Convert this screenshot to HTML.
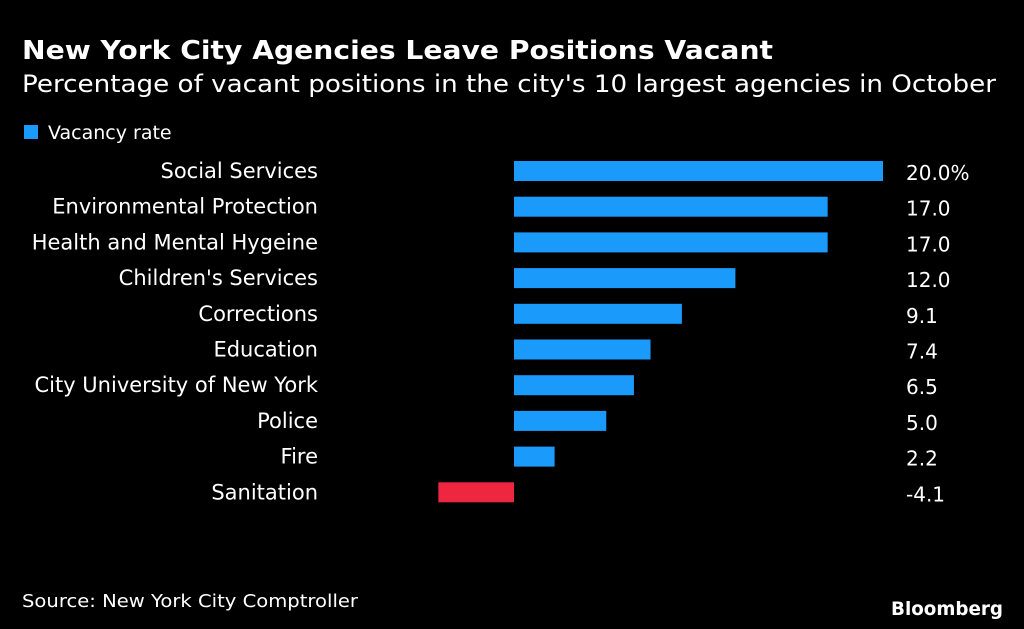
<!DOCTYPE html>
<html><head><meta charset="utf-8">
<style>
html,body{margin:0;padding:0;background:#000;}
svg{display:block;font-family:"DejaVu Sans","Liberation Sans",sans-serif;}
</style></head>
<body>
<svg id="chart" width="1024" height="629" viewBox="0 0 1024 629">
<rect width="1024" height="629" fill="#000"/>
<text x="22" y="59" fill="#fff" font-size="26" font-weight="bold" textLength="751" lengthAdjust="spacingAndGlyphs">New York City Agencies Leave Positions Vacant</text>
<text x="22" y="92" fill="#fff" font-size="24" textLength="974" lengthAdjust="spacingAndGlyphs">Percentage of vacant positions in the city's 10 largest agencies in October</text>
<rect x="24" y="125" width="14" height="14" fill="#1a9bfc"/>
<text x="48" y="139" fill="#fff" font-size="19">Vacancy rate</text>
<g id="bars"></g>
<text x="22" y="607" fill="#fff" font-size="18" textLength="336" lengthAdjust="spacingAndGlyphs">Source: New York City Comptroller</text>
<text x="1003" y="615" fill="#fff" font-size="19" font-weight="bold" text-anchor="end" textLength="112" lengthAdjust="spacingAndGlyphs">Bloomberg</text>
</svg>
<script>
const categories = ["Social Services","Environmental Protection","Health and Mental Hygeine","Children's Services","Corrections","Education","City University of New York","Police","Fire","Sanitation"];
const values = [20.0,17.0,17.0,12.0,9.1,7.4,6.5,5.0,2.2,-4.1];
const valueLabels = ["20.0%","17.0","17.0","12.0","9.1","7.4","6.5","5.0","2.2","-4.1"];

const x0 = 514, pxPerUnit = 18.45;
function xScale(v){ return x0 + v * pxPerUnit; }
function yCenter(i){ return 171 + i * 35.7; }
const ns = "http://www.w3.org/2000/svg";
const g = document.getElementById('bars');
categories.forEach((c, i) => {
  const v = values[i];
  const yc = yCenter(i);
  const r = document.createElementNS(ns, 'rect');
  const xa = Math.min(xScale(0), xScale(v)), xb = Math.max(xScale(0), xScale(v));
  r.setAttribute('x', xa); r.setAttribute('y', yc - 10);
  r.setAttribute('width', xb - xa); r.setAttribute('height', 20);
  r.setAttribute('fill', v < 0 ? '#ee2640' : '#1a9bfc');
  
  
  g.appendChild(r);
  const t = document.createElementNS(ns, 'text');
  t.setAttribute('x', 318); t.setAttribute('y', yc + 7);
  t.setAttribute('text-anchor', 'end'); t.setAttribute('fill', '#fff');
  t.setAttribute('font-size', '21');
  t.textContent = c;
  
  
  g.appendChild(t);
  const vt = document.createElementNS(ns, 'text');
  vt.setAttribute('x', 906); vt.setAttribute('y', yc + 9);
  vt.setAttribute('fill', '#fff'); vt.setAttribute('font-size', '20');
  vt.textContent = valueLabels[i];
  
  
  g.appendChild(vt);
});
</script>
</body></html>
